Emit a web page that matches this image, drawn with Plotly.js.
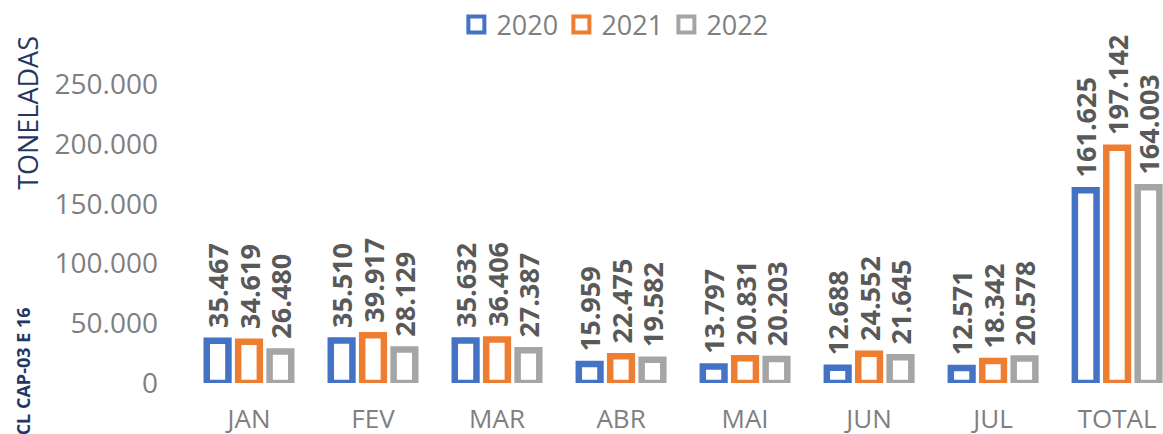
<!DOCTYPE html>
<html><head><meta charset="utf-8">
<script src="https://cdn.plot.ly/plotly-3.0.1.min.js"></script>
<style>html,body{margin:0;padding:0;background:#fff}</style></head>
<body>
<div id="chart" style="width:1163px;height:434px"></div>
<script>
const categories = ['JAN','FEV','MAR','ABR','MAI','JUN','JUL','TOTAL'];
const v2020 = [35467,35510,35632,15959,13797,12688,12571,161625];
const v2021 = [34619,39917,36406,22475,20831,24552,18342,197142];
const v2022 = [26480,28129,27387,19582,20203,21645,20578,164003];
const seriesNames = ['2020','2021','2022'];
const seriesValues = [v2020, v2021, v2022];
const colors = ['#4472C4','#ED7D31','#A5A5A5'];
const yTicks = [0,50000,100000,150000,200000,250000];

const FONT = 'Open Sans, Liberation Sans, sans-serif';
const traces = seriesNames.map((name, i) => ({
  type: 'bar',
  name: name,
  x: categories,
  y: seriesValues[i],
  showlegend: false,
  marker: {color: '#ffffff', line: {color: colors[i], width: 6.5}},
  texttemplate: '\u00a0\u200a%{y:,.0f}',
  textposition: 'outside',
  textangle: -90,
  constraintext: 'none',
  cliponaxis: false,
  textfont: {family: FONT, size: 27, color: '#595959', weight: 'bold'},
  hoverinfo: 'skip'
}));
// legend-only entries (open squares)
seriesNames.forEach((name, i) => traces.push({
  type: 'scatter', mode: 'markers', name: name, x: [null], y: [null],
  marker: {symbol: 'square-open', size: 16, color: colors[i], line: {width: 4, color: colors[i]}},
  hoverinfo: 'skip'
}));

const layout = {
  width: 1163, height: 434,
  margin: {l: 187, r: 0, t: 23, b: 51},
  paper_bgcolor: '#ffffff', plot_bgcolor: '#ffffff',
  separators: ',.',
  barmode: 'group',
  bargap: 0.24,
  bargroupgap: 0.31,
  font: {family: FONT, color: '#7f7f7f'},
  showlegend: true,
  legend: {orientation: 'h', x: 0.276, xanchor: 'left', y: 1.0, yanchor: 'middle',
           entrywidth: 60, entrywidthmode: 'pixels', itemwidth: 30,
           font: {family: FONT, size: 27, color: '#7f7f7f'}, bgcolor: 'rgba(0,0,0,0)', itemclick: false},
  xaxis: {type: 'category', range: [-0.5, 7.37], showgrid: false, showline: false, zeroline: false,
          ticks: '', tickfont: {family: FONT, size: 26, color: '#7f7f7f'}, ticklabelstandoff: 18},
  yaxis: {range: [0, 300000], tickvals: yTicks, tickformat: ',.0f', showgrid: false, showline: false,
          zeroline: false, ticks: '', tickfont: {family: FONT, size: 28, color: '#7f7f7f'}, ticklabelstandoff: 28},
  annotations: [
    {text: 'TONELADAS', xref: 'paper', yref: 'paper', x: -0.163, y: 0.975, xanchor: 'center', yanchor: 'top',
     textangle: -90, showarrow: false, font: {family: FONT, size: 27, color: '#1F3864'}},
    {text: '<b>CL CAP-03 E 16</b>', xref: 'paper', yref: 'paper', x: -0.168, y: 0.217, xanchor: 'center', yanchor: 'top',
     textangle: -90, showarrow: false, font: {family: FONT, size: 18, color: '#1F3864'}}
  ]
};

Plotly.newPlot('chart', traces, layout, {displayModeBar: false, staticPlot: true});
</script>
</body></html>
